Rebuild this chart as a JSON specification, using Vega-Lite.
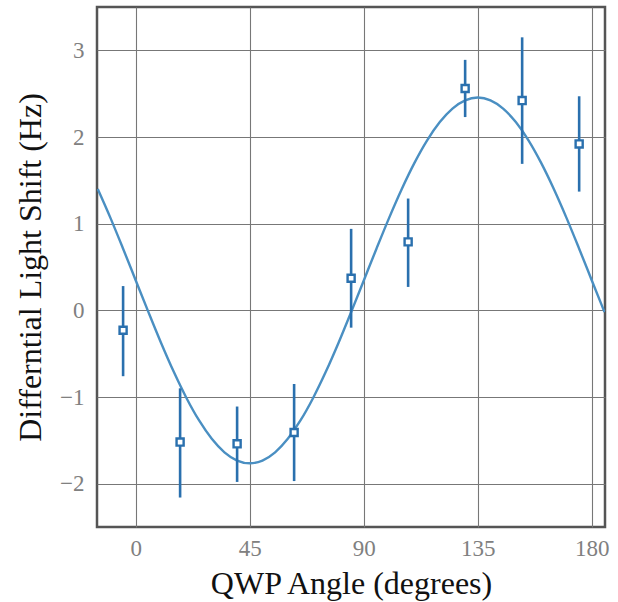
{
  "$schema": "https://vega.github.io/schema/vega-lite/v6.json",
  "width": 508,
  "height": 520,
  "autosize": {"type": "none"},
  "padding": {"left": 97, "top": 7, "right": 13, "bottom": 75},
  "background": "white",
  "config": {
    "view": {"stroke": "#555", "strokeWidth": 2.5},
    "font": "Liberation Serif",
    "axis": {
      "grid": true,
      "gridColor": "#777",
      "gridWidth": 1.1,
      "domain": false,
      "ticks": false,
      "labelFont": "Liberation Serif",
      "labelFontSize": 23,
      "labelColor": "#808080",
      "titleFont": "Liberation Serif",
      "titleFontSize": 32,
      "titleFontWeight": "normal",
      "titleColor": "#111"
    }
  },
  "datasets": {
    "points": [
      {"angle": -5, "shift": -0.23, "lo": -0.76, "hi": 0.28},
      {"angle": 17.5, "shift": -1.52, "lo": -2.16, "hi": -0.9},
      {"angle": 40, "shift": -1.54, "lo": -1.98, "hi": -1.11},
      {"angle": 62.5, "shift": -1.41, "lo": -1.97, "hi": -0.85},
      {"angle": 85, "shift": 0.37, "lo": -0.2, "hi": 0.94},
      {"angle": 107.5, "shift": 0.79, "lo": 0.27, "hi": 1.29},
      {"angle": 130, "shift": 2.56, "lo": 2.23, "hi": 2.89},
      {"angle": 152.5, "shift": 2.42, "lo": 1.69, "hi": 3.15},
      {"angle": 175, "shift": 1.92, "lo": 1.37, "hi": 2.47}
    ],
    "fit": [
      {"angle": -15, "shift": 1.4},
      {"angle": -10, "shift": 1.067},
      {"angle": -5, "shift": 0.711},
      {"angle": 0, "shift": 0.345},
      {"angle": 5, "shift": -0.021},
      {"angle": 10, "shift": -0.377},
      {"angle": 15, "shift": -0.71},
      {"angle": 20, "shift": -1.011},
      {"angle": 25, "shift": -1.271},
      {"angle": 30, "shift": -1.482},
      {"angle": 35, "shift": -1.638},
      {"angle": 40, "shift": -1.733},
      {"angle": 45, "shift": -1.765},
      {"angle": 50, "shift": -1.733},
      {"angle": 55, "shift": -1.638},
      {"angle": 60, "shift": -1.482},
      {"angle": 65, "shift": -1.271},
      {"angle": 70, "shift": -1.011},
      {"angle": 75, "shift": -0.71},
      {"angle": 80, "shift": -0.377},
      {"angle": 85, "shift": -0.021},
      {"angle": 90, "shift": 0.345},
      {"angle": 95, "shift": 0.711},
      {"angle": 100, "shift": 1.067},
      {"angle": 105, "shift": 1.4},
      {"angle": 110, "shift": 1.701},
      {"angle": 115, "shift": 1.961},
      {"angle": 120, "shift": 2.172},
      {"angle": 125, "shift": 2.328},
      {"angle": 130, "shift": 2.423},
      {"angle": 135, "shift": 2.455},
      {"angle": 140, "shift": 2.423},
      {"angle": 145, "shift": 2.328},
      {"angle": 150, "shift": 2.172},
      {"angle": 155, "shift": 1.961},
      {"angle": 160, "shift": 1.701},
      {"angle": 165, "shift": 1.4},
      {"angle": 170, "shift": 1.067},
      {"angle": 175, "shift": 0.711},
      {"angle": 180, "shift": 0.345},
      {"angle": 185, "shift": -0.021}
    ]
  },
  "encoding": {
    "x": {
      "field": "angle",
      "type": "quantitative",
      "scale": {"domain": [-15.3, 185.2], "nice": false, "zero": false},
      "axis": {"values": [0, 45, 90, 135, 180], "title": "QWP Angle (degrees)", "labelPadding": 10, "titlePadding": 8}
    },
    "y": {
      "field": "shift",
      "type": "quantitative",
      "scale": {"domain": [-2.5, 3.5], "nice": false, "zero": false},
      "axis": {"values": [-2, -1, 0, 1, 2, 3], "title": "Differntial Light Shift (Hz)", "labelPadding": 13, "titlePadding": 12, "labelExpr": "replace(datum.label, '-', '\u2212')"}
    }
  },
  "layer": [
    {
      "data": {"name": "fit"},
      "mark": {"type": "line", "color": "#4a8fc2", "strokeWidth": 2.4, "interpolate": "monotone", "clip": true}
    },
    {
      "data": {"name": "points"},
      "mark": {"type": "rule", "color": "#2a70ae", "strokeWidth": 2.6},
      "encoding": {
        "y": {"field": "lo", "type": "quantitative"},
        "y2": {"field": "hi"}
      }
    },
    {
      "data": {"name": "points"},
      "mark": {"type": "point", "shape": "square", "filled": false, "fill": "white", "fillOpacity": 1, "stroke": "#2a70ae", "strokeWidth": 2.4, "size": 50, "opacity": 1}
    }
  ]
}
